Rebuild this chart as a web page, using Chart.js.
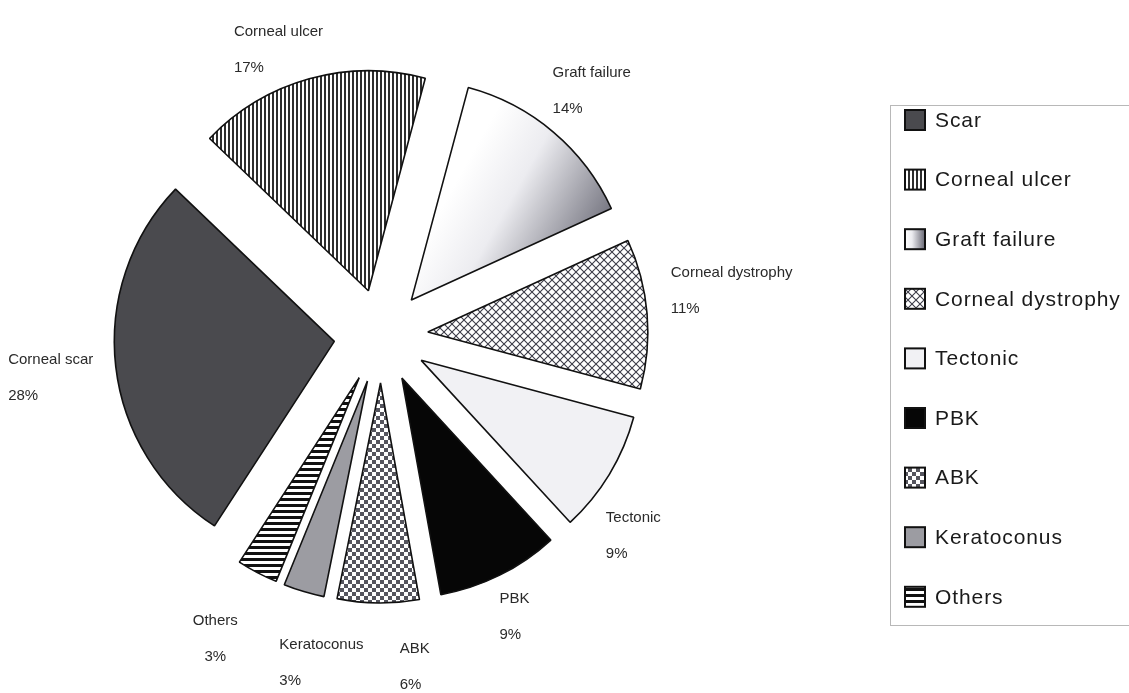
<!DOCTYPE html>
<html>
<head>
<meta charset="utf-8">
<script src="https://cdn.jsdelivr.net/npm/chart.js@4.4.1/dist/chart.umd.min.js"></script>
<style>
  html, body { margin: 0; padding: 0; background: #fff; }
  #wrap { width: 1129px; height: 693px; }
</style>
</head>
<body>
<div id="wrap"><canvas id="pie" width="1129" height="693"></canvas></div>
<script>
// data
const categories = ['Scar', 'Corneal ulcer', 'Graft failure', 'Corneal dystrophy', 'Tectonic', 'PBK', 'ABK', 'Keratoconus', 'Others'];
const sliceNames = ['Corneal scar', 'Corneal ulcer', 'Graft failure', 'Corneal dystrophy', 'Tectonic', 'PBK', 'ABK', 'Keratoconus', 'Others'];
const percents = [28, 17, 14, 11, 9, 9, 6, 3, 3];

const RADIUS = 220;
const EXPLODE = 47;     // how far each slice is pulled out
const LABEL_GAP = 25;
const LINE_GAP = 36;
const PAD = { left: 0, right: 367, top: 0, bottom: 21 };
// the labels in the original were dragged a little by hand
const labelNudge = [[2, 5], [-12, 19], [-3, -3], [-1, -19], [-21, 36], [-3, -3], [37, 14], [37, 23], [-20, 22]];

const canvas = document.getElementById('pie');
const mainCtx = canvas.getContext('2d');

function makePattern(size, paint) {
  const c = document.createElement('canvas');
  c.width = size; c.height = size;
  const g = c.getContext('2d');
  g.fillStyle = '#fff';
  g.fillRect(0, 0, size, size);
  paint(g, size);
  return mainCtx.createPattern(c, 'repeat');
}

const vStripes = makePattern(4, (g, s) => { g.fillStyle = '#2e2e2e'; g.fillRect(0, 0, 2, s); });
const hStripes = makePattern(6, (g, s) => { g.fillStyle = '#111'; g.fillRect(0, 0, s, 3); });
const crossHatch = makePattern(8, (g, s) => {
  g.strokeStyle = '#3c3c48'; g.lineWidth = 1.1;
  g.beginPath();
  g.moveTo(0, 0); g.lineTo(s, s);
  g.moveTo(s, 0); g.lineTo(0, s);
  g.stroke();
});
const checker = makePattern(8, (g, s) => {
  g.fillStyle = '#55555e';
  g.fillRect(0, 0, 4, 4);
  g.fillRect(4, 4, 4, 4);
});

function graftGradient(ctx, x0, y0, x1, y1) {
  const gr = ctx.createLinearGradient(x0, y0, x1, y1);
  gr.addColorStop(0, '#ffffff');
  gr.addColorStop(0.35, '#ececf0');
  gr.addColorStop(1, '#686874');
  return gr;
}

function fillFor(chart, i) {
  switch (i) {
    case 0: return '#4a4a4e';
    case 1: return vStripes;
    case 2: {
      const cx = PAD.left + (chart.width - PAD.left - PAD.right) / 2;
      const cy = PAD.top + (chart.height - PAD.top - PAD.bottom) / 2;
      return graftGradient(mainCtx, cx + RADIUS * 0.43, cy - RADIUS * 0.86, cx + RADIUS * 1.07, cy - RADIUS * 0.5);
    }
    case 3: return crossHatch;
    case 4: return '#f1f1f4';
    case 5: return '#060606';
    case 6: return checker;
    case 7: return '#9c9ca2';
    default: return hStripes;
  }
}

// push every arc outward along its own mid angle
const explode = {
  id: 'explode',
  afterDatasetsUpdate(chart) {
    chart.getDatasetMeta(0).data.forEach(arc => {
      const mid = (arc.startAngle + arc.endAngle) / 2;
      arc.x += Math.cos(mid) * EXPLODE;
      arc.y += Math.sin(mid) * EXPLODE;
    });
  }
};

// name + percentage outside each slice
const sliceText = {
  id: 'sliceText',
  afterDatasetsDraw(chart) {
    const ctx = chart.ctx;
    const meta = chart.getDatasetMeta(0);
    ctx.save();
    ctx.font = '15px "Liberation Sans", Arial, sans-serif';
    ctx.fillStyle = '#2a2a2a';
    ctx.textBaseline = 'middle';
    meta.data.forEach((arc, i) => {
      const mid = (arc.startAngle + arc.endAngle) / 2;
      const dx = Math.cos(mid), dy = Math.sin(mid);
      const rho = arc.outerRadius + LABEL_GAP;
      const ax = arc.x + dx * rho, ay = arc.y + dy * rho;
      const lines = [sliceNames[i], percents[i] + '%'];
      const w = Math.max(...lines.map(t => ctx.measureText(t).width));
      const h = LINE_GAP + 14;
      const left = ax + dx * w / 2 - w / 2 + labelNudge[i][0];
      const top = ay + dy * h / 2 - h / 2 + labelNudge[i][1];
      // the last label is centred, the rest left aligned
      const centred = i === lines.length + 6;
      ctx.textAlign = centred ? 'center' : 'left';
      const tx = centred ? left + w / 2 : left;
      ctx.fillText(lines[0], tx, top + 7);
      ctx.fillText(lines[1], tx, top + 7 + LINE_GAP);
    });
    ctx.restore();
  }
};

// boxed legend on the right
const boxLegend = {
  id: 'boxLegend',
  afterDraw(chart) {
    const ctx = chart.ctx;
    const boxL = 890, boxT = 105, boxB = 625;
    const firstY = 120, step = 59.6;
    ctx.save();
    ctx.strokeStyle = '#b8b8b8';
    ctx.lineWidth = 1;
    ctx.strokeRect(boxL + 0.5, boxT + 0.5, chart.width - boxL + 10, boxB - boxT);
    ctx.font = '21px "Liberation Sans", Arial, sans-serif';
    ctx.letterSpacing = '0.9px';
    ctx.textBaseline = 'middle';
    ctx.textAlign = 'left';
    categories.forEach((name, i) => {
      const y = firstY + i * step;
      const sx = 905, sy = y - 10;
      ctx.fillStyle = i === 2 ? graftGradient(ctx, sx, sy, sx + 20, sy) : fillFor(chart, i);
      ctx.fillRect(sx, sy, 20, 20);
      ctx.strokeStyle = '#111';
      ctx.lineWidth = 2;
      ctx.strokeRect(sx, sy, 20, 20);
      ctx.fillStyle = '#1a1a1a';
      ctx.fillText(name, 935, y + 1);
    });
    ctx.restore();
  }
};

new Chart(canvas, {
  type: 'pie',
  data: {
    labels: categories,
    datasets: [{
      data: percents,
      backgroundColor: c => fillFor(c.chart, c.dataIndex),
      borderColor: '#111',
      borderWidth: 1.6,
      borderJoinStyle: 'bevel'
    }]
  },
  options: {
    responsive: false,
    animation: false,
    events: [],
    rotation: -147,
    radius: RADIUS,
    layout: { padding: PAD },
    plugins: { legend: { display: false }, tooltip: { enabled: false } }
  },
  plugins: [explode, sliceText, boxLegend]
});
</script>
</body>
</html>
